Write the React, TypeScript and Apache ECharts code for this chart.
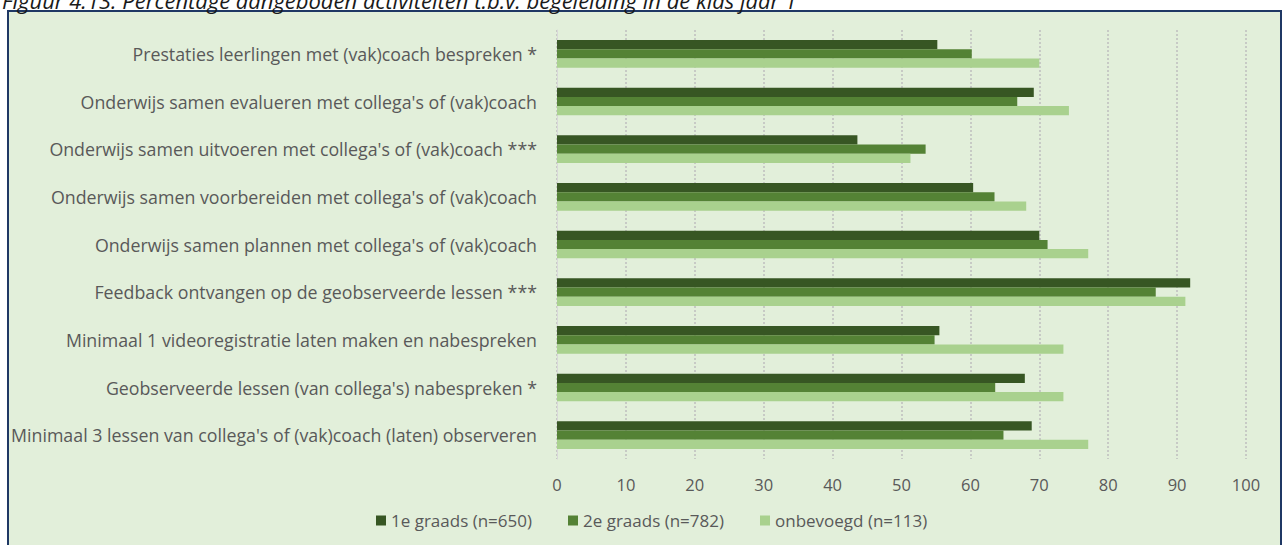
import React, { useEffect, useRef } from "react";
import * as echarts from "echarts";

const categories = [
  "Prestaties leerlingen met (vak)coach bespreken *",
  "Onderwijs samen evalueren met collega's of (vak)coach",
  "Onderwijs samen uitvoeren met collega's of (vak)coach ***",
  "Onderwijs samen voorbereiden met collega's of (vak)coach",
  "Onderwijs samen plannen met collega's of (vak)coach",
  "Feedback ontvangen op de geobserveerde lessen ***",
  "Minimaal 1 videoregistratie laten maken en nabespreken",
  "Geobserveerde lessen (van collega's) nabespreken *",
  "Minimaal 3 lessen van collega's of (vak)coach (laten) observeren",
];

const seriesNames = ["1e graads (n=650)", "2e graads (n=782)", "onbevoegd (n=113)"];
const eersteGraads = [55.2, 69.2, 43.6, 60.4, 70.0, 91.9, 55.5, 67.9, 68.9];
const tweedeGraads = [60.2, 66.8, 53.5, 63.5, 71.2, 86.9, 54.8, 63.6, 64.8];
const onbevoegd = [70.0, 74.3, 51.3, 68.1, 77.1, 91.2, 73.5, 73.5, 77.1];

const titleText =
  "Figuur 4.13: Percentage aangeboden activiteiten t.b.v. begeleiding in de klas jaar 1";

const colors = ["#375623", "#548235", "#A9D18E"];
const FONT = "Open Sans";
const legendLefts = [371, 563, 755];

export default function App() {
  const ref = useRef<HTMLDivElement>(null);
  useEffect(() => {
    if (!ref.current) return;
    const chart = echarts.init(ref.current, undefined, { renderer: "svg" });
    const data = [eersteGraads, tweedeGraads, onbevoegd];
    chart.setOption({
      animation: false,
      textStyle: { fontFamily: FONT },
      color: colors,
      graphic: [
        {
          type: "rect",
          z: -100,
          shape: { x: 8, y: 11, width: 1273, height: 560 },
          style: { fill: "#E2EFDA", stroke: "#1F3864", lineWidth: 2 },
          silent: true,
        },
        {
          type: "text",
          z: 100,
          x: 2,
          y: 11,
          style: {
            text: titleText,
            fontFamily: FONT,
            fontStyle: "italic",
            fontSize: 22,
            fill: "#1a1a1a",
            verticalAlign: "bottom",
          },
          silent: true,
        },
      ],
      grid: { left: 557, right: 37, top: 30, bottom: 86, containLabel: false },
      legend: seriesNames.map((name, i) => ({
        bottom: 11,
        left: legendLefts[i],
        itemWidth: 10,
        itemHeight: 10,
        icon: "rect",
        textStyle: { color: "#595959", fontSize: 17, fontFamily: FONT },
        data: [name],
      })),
      xAxis: {
        type: "value",
        min: 0,
        max: 100,
        interval: 10,
        axisLine: { show: false },
        axisTick: { show: false },
        axisLabel: { color: "#595959", fontSize: 16.5, margin: 17, fontFamily: FONT },
        splitLine: { show: true, lineStyle: { color: "#BFBFBF", width: 1.5, type: [2, 2] } },
      },
      yAxis: {
        type: "category",
        inverse: true,
        data: categories,
        axisLine: { show: true, lineStyle: { color: "#D9D9D9", width: 1 } },
        axisTick: { show: false },
        axisLabel: { color: "#595959", fontSize: 17.8, margin: 20, fontFamily: FONT },
      },
      series: seriesNames.map((name, i) => ({
        name,
        type: "bar",
        data: data[i],
        barGap: "0%",
        barCategoryGap: "42%",
        itemStyle: { color: colors[i] },
      })),
    });
    return () => chart.dispose();
  }, []);
  return (
    <div
      ref={ref}
      style={{ position: "absolute", left: 0, top: 0, width: 1283, height: 545 }}
    />
  );
}
